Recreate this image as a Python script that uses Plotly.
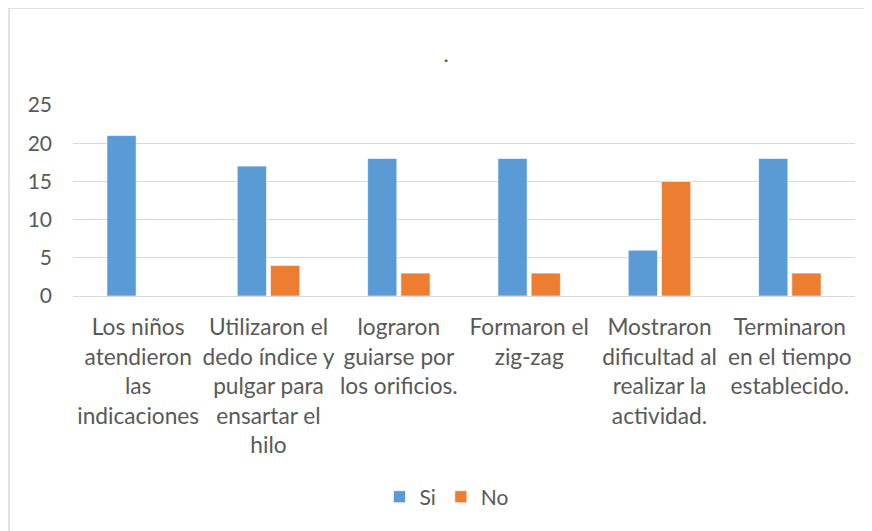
import plotly.graph_objects as go

categories = [
    "Los niños<br>atendieron<br>las<br>indicaciones",
    "Utilizaron el<br>dedo índice y<br>pulgar para<br>ensartar el<br>hilo",
    "lograron<br>guiarse por<br>los orificios.",
    "Formaron el<br>zig-zag",
    "Mostraron<br>dificultad al<br>realizar la<br>actividad.",
    "Terminaron<br>en el tiempo<br>establecido.",
]
si_values = [21, 17, 18, 18, 6, 18]
no_values = [0, 4, 3, 3, 15, 3]
y_ticks = [0, 5, 10, 15, 20, 25]

# page body has an 8px margin, so work in screen pixels and shift
OFF = 8
W, H = 872 - OFF, 531 - OFF
L, R = 73 - OFF, 17
T, B = 105 - OFF, 235

FONT = "Lato"
TEXT = "#595959"

fig = go.Figure()
fig.add_trace(go.Bar(
    x=categories, y=si_values, name="Si",
    marker=dict(color="#5B9BD5", line=dict(color="rgba(255,255,255,0.6)", width=1)),
))
fig.add_trace(go.Bar(
    x=categories, y=no_values, name="No",
    marker=dict(color="#ED7D31", line=dict(color="rgba(255,255,255,0.6)", width=1)),
))

pw, ph = W - L - R, H - T - B


def px_x(p):
    # screen pixel -> paper x
    return (p - OFF - L) / pw


def px_y(p):
    # screen pixel -> paper y
    return (H - B - (p - OFF)) / ph


# outer chart border (only top/left visible in frame)
fig.add_shape(
    type="rect", xref="paper", yref="paper",
    x0=px_x(9), x1=px_x(900), y0=px_y(560), y1=px_y(8),
    line=dict(color="#D9D9D9", width=1.5), layer="below",
)

fig.update_layout(
    width=W, height=H,
    margin=dict(l=L, r=R, t=T, b=B),
    paper_bgcolor="white", plot_bgcolor="white",
    font=dict(family=FONT, size=21, color=TEXT),
    title=dict(text=".", x=(446 - OFF) / W, xanchor="center",
               y=1 - (54 - OFF) / H, yanchor="middle", font=dict(size=22, color=TEXT)),
    barmode="group", bargap=0.49, bargroupgap=0.12,
    showlegend=True,
    legend=dict(orientation="h", x=px_x(447), xanchor="center",
                y=px_y(497), yanchor="middle", font=dict(size=21, color=TEXT),
                itemwidth=30, traceorder="normal"),
    yaxis=dict(range=[0, 25], tickvals=y_ticks, showgrid=True, gridcolor="#D9D9D9",
               gridwidth=1.3, zeroline=False, showline=False, ticks="",
               ticklabelstandoff=20, tickfont=dict(size=21, color=TEXT)),
    xaxis=dict(showline=True, linecolor="#D9D9D9", linewidth=1.3, ticks="",
               tickangle=0, ticklabelstandoff=11, tickfont=dict(size=22.7, color=TEXT)),
)

fig.write_html("out.html")
